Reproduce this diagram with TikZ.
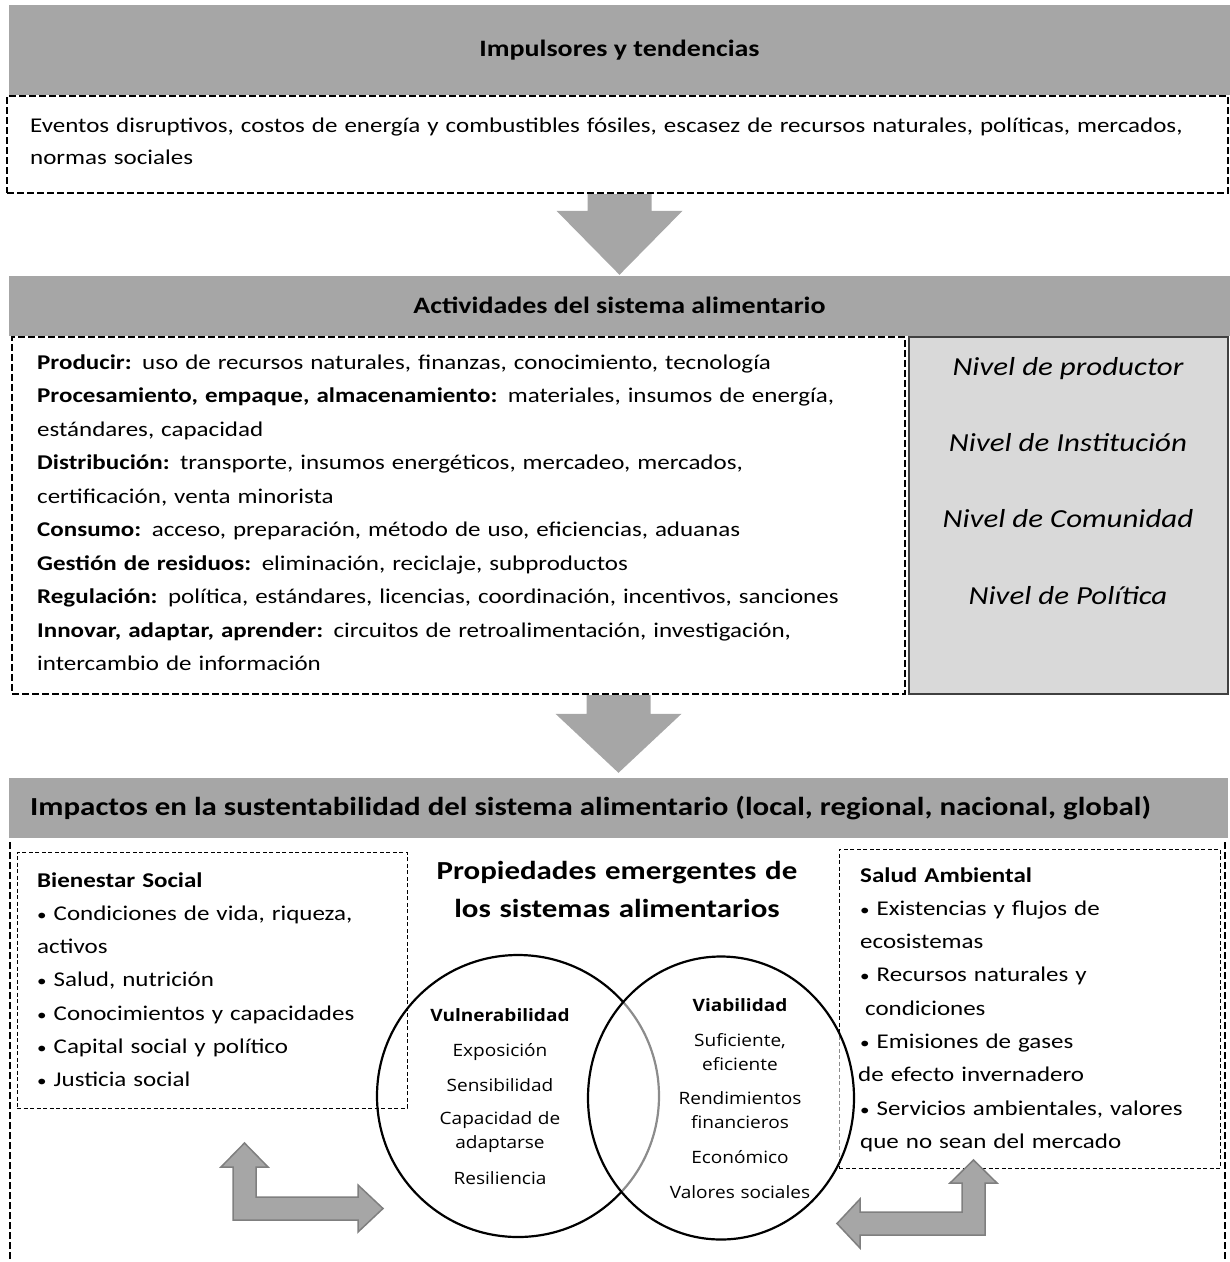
\documentclass[tikz,border=0pt]{standalone}
\usepackage{fontspec}
\setmainfont{Carlito}[FakeStretch=1.19]
\newfontfamily\vennfont{Open Sans}[FakeStretch=1.12]
\usetikzlibrary{shapes.geometric,calc}
\definecolor{hdr}{HTML}{A6A6A6}
\definecolor{lvl}{HTML}{D9D9D9}
\definecolor{arrline}{HTML}{7F7F7F}
\definecolor{lvlline}{HTML}{404040}
\newcommand\mybul{{\fontsize{16}{16}\selectfont •}}
\begin{document}
\begin{tikzpicture}[x=1pt,y=-1pt,
  header/.style={fill=hdr,draw=none,inner sep=0pt},
  thickdash/.style={draw=black,line width=2.2pt,dash pattern=on 7pt off 3pt},
  thindash/.style={draw=black,line width=0.8pt,dash pattern=on 4pt off 2.5pt},
  bigarrow/.style={fill=hdr,draw=none},
  bentarrow/.style={fill=hdr,draw=arrline,line width=1.5pt,line join=miter},
  body/.style={font=\fontsize{21}{33.5}\selectfont,inner sep=0pt,align=left,anchor=base west},
  side/.style={font=\fontsize{21}{33.3}\selectfont,inner sep=0pt,align=left,anchor=base west,text width=370pt},
  hdtext/.style={font=\fontsize{23.5}{28}\selectfont\bfseries},
  level/.style={font=\fontsize{26}{32}\selectfont\itshape,inner sep=0pt,anchor=base},
  venn/.style={font=\vennfont\fontsize{17}{24.5}\selectfont,inner sep=0pt,anchor=base,align=center,text width=190pt},
  vennhead/.style={venn,font=\vennfont\fontsize{17}{24.5}\selectfont\bfseries},
]
\useasboundingbox (0,0) rectangle (1230,1262);

% ---- header 1 and drivers box
\node[header,minimum width=1221pt,minimum height=90pt] (h1) at (619.5,50) {};
\node[hdtext] (h1t) at (619.5,50) {Impulsores y tendencias};
\node[thickdash,minimum width=1221pt,minimum height=97pt,inner sep=0pt] (b1) at (617.5,144.5) {};
\node[body,font=\fontsize{21}{32}\selectfont,text width=1196pt] (b1t) at (30,132)
  {Eventos disruptivos, costos de energía y combustibles fósiles, escasez de recursos naturales, políticas, mercados,\\ normas sociales};

% ---- header 2
\node[header,minimum width=1221pt,minimum height=60pt] (h2) at (619.5,306) {};
\node[hdtext] (h2t) at (619.5,305) {Actividades del sistema alimentario};

% arrow 1
\coordinate (a1s) at (h2.north |- b1.south);
\coordinate (a1e) at (h2.north);
\fill[bigarrow] ($(a1s)+(-32,0)$) -- ($(a1s)+(32,0)$) -- ($(a1e)+(32,-65)$) -- ($(a1e)+(63,-65)$)
  -- ($(a1e)+(0,-1)$) -- ($(a1e)+(-63,-65)$) -- ($(a1e)+(-32,-65)$) -- cycle;

% ---- activities box
\node[thickdash,minimum width=893pt,minimum height=357pt,inner sep=0pt] (b2) at (458.5,515.5) {};
\node[body,text width=880pt] (b2t) at (37,369)
{\textbf{Producir:} uso de recursos naturales, finanzas, conocimiento, tecnología\\
\textbf{Procesamiento, empaque, almacenamiento:} materiales, insumos de energía,\\
estándares, capacidad\\
\textbf{Distribución:} transporte, insumos energéticos, mercadeo, mercados,\\
certificación, venta minorista\\
\textbf{Consumo:} acceso, preparación, método de uso, eficiencias, aduanas\\
\textbf{Gestión de residuos:} eliminación, reciclaje, subproductos\\
\textbf{Regulación:} política, estándares, licencias, coordinación, incentivos, sanciones\\
\textbf{Innovar, adaptar, aprender:} circuitos de retroalimentación, investigación,\\
intercambio de información};

\node[fill=lvl,draw=lvlline,line width=1.3pt,minimum width=319pt,minimum height=357pt,inner sep=0pt] (lv) at (1068.5,515.5) {};
\node[level] (lv1) at (1068,375) {Nivel de productor};
\node[level] (lv2) at (1068,451) {Nivel de Institución};
\node[level] (lv3) at (1068,527) {Nivel de Comunidad};
\node[level] (lv4) at (1068,604) {Nivel de Política};

% ---- header 3
\node[header,minimum width=1219pt,minimum height=60pt] (h3) at (618.5,808) {};
\node[font=\fontsize{26}{30}\selectfont\bfseries,inner sep=0pt,anchor=west] (h3t) at (30,808)
  {Impactos en la sustentabilidad del sistema alimentario (local, regional, nacional, global)};

% arrow 2
\coordinate (a2s) at (h3.north |- b2.south);
\coordinate (a2e) at (h3.north);
\fill[bigarrow] ($(a2s)+(-32,0)$) -- ($(a2s)+(32,0)$) -- ($(a2e)+(32,-64)$) -- ($(a2e)+(63,-64)$)
  -- ($(a2e)+(0,-5)$) -- ($(a2e)+(-63,-64)$) -- ($(a2e)+(-32,-64)$) -- cycle;

% ---- outer impacts frame (sides only)
\draw[thickdash] (10,842) -- (10,1262);
\draw[thickdash] (1225,842) -- (1225,1262);

% ---- social wellbeing box
\node[thindash,minimum width=390pt,minimum height=256pt,inner sep=0pt] (bs) at (212,980) {};
\node[side] (bst) at (37,887)
{\textbf{Bienestar Social}\\
\mybul{} Condiciones de vida, riqueza,\\
activos\\
\mybul{} Salud, nutrición\\
\mybul{} Conocimientos y capacidades\\
\mybul{} Capital social y político\\
\mybul{} Justicia social};

% ---- environmental health box
\node[thindash,minimum width=381pt,minimum height=319pt,inner sep=0pt] (sa) at (1029.5,1008.5) {};
\node[side,text width=360pt] (sat) at (860,882)
{\textbf{Salud Ambiental}\\
\mybul{} Existencias y flujos de\\
ecosistemas\\
\mybul{} Recursos naturales y\\
\hspace*{5pt}condiciones\\
\mybul{} Emisiones de gases\\
\hspace*{-2pt}de efecto invernadero\\
\mybul{} Servicios ambientales, valores\\
que no sean del mercado};

% ---- emergent properties title
\node[font=\fontsize{26}{38}\selectfont\bfseries,inner sep=0pt,anchor=base,align=center,text width=440pt] (pe) at (617,879)
{Propiedades emergentes de\\ los sistemas alimentarios};

% ---- Venn
\node[circle,draw=black,line width=2.2pt,minimum size=282pt,inner sep=0pt] (vl) at (518,1096) {};
\node[ellipse,draw=black,line width=2.2pt,fill=white,fill opacity=0.55,draw opacity=1,minimum width=266pt,minimum height=283pt,inner sep=0pt] (vr) at (721,1098) {};

\node[vennhead] (vl0) at (500,1021) {Vulnerabilidad};
\node[venn] (vl1) at (500,1056) {Exposición};
\node[venn] (vl2) at (500,1091) {Sensibilidad};
\node[venn] (vl3) at (500,1124) {Capacidad de\\ adaptarse};
\node[venn] (vl4) at (500,1184) {Resiliencia};

\node[vennhead] (vr0) at (740,1011) {Viabilidad};
\node[venn] (vr1) at (740,1046) {Suficiente,\\ eficiente};
\node[venn] (vr2) at (740,1104) {Rendimientos\\ financieros};
\node[venn] (vr3) at (740,1163) {Económico};
\node[venn] (vr4) at (740,1198) {Valores sociales};

% ---- bent double arrows
\draw[bentarrow] (233,1220) -- (233,1167) -- (221,1167) -- (244.5,1143) -- (268,1167) -- (256,1167)
  -- (256,1197) -- (358,1197) -- (358,1185) -- (383,1208.5) -- (358,1232) -- (358,1220) -- cycle;
\draw[bentarrow] (985,1235) -- (985,1183) -- (997,1183) -- (973.5,1160) -- (950,1183) -- (962,1183)
  -- (962,1212) -- (860,1212) -- (860,1199) -- (837,1223.5) -- (860,1248) -- (860,1235) -- cycle;
\end{tikzpicture}
\end{document}
